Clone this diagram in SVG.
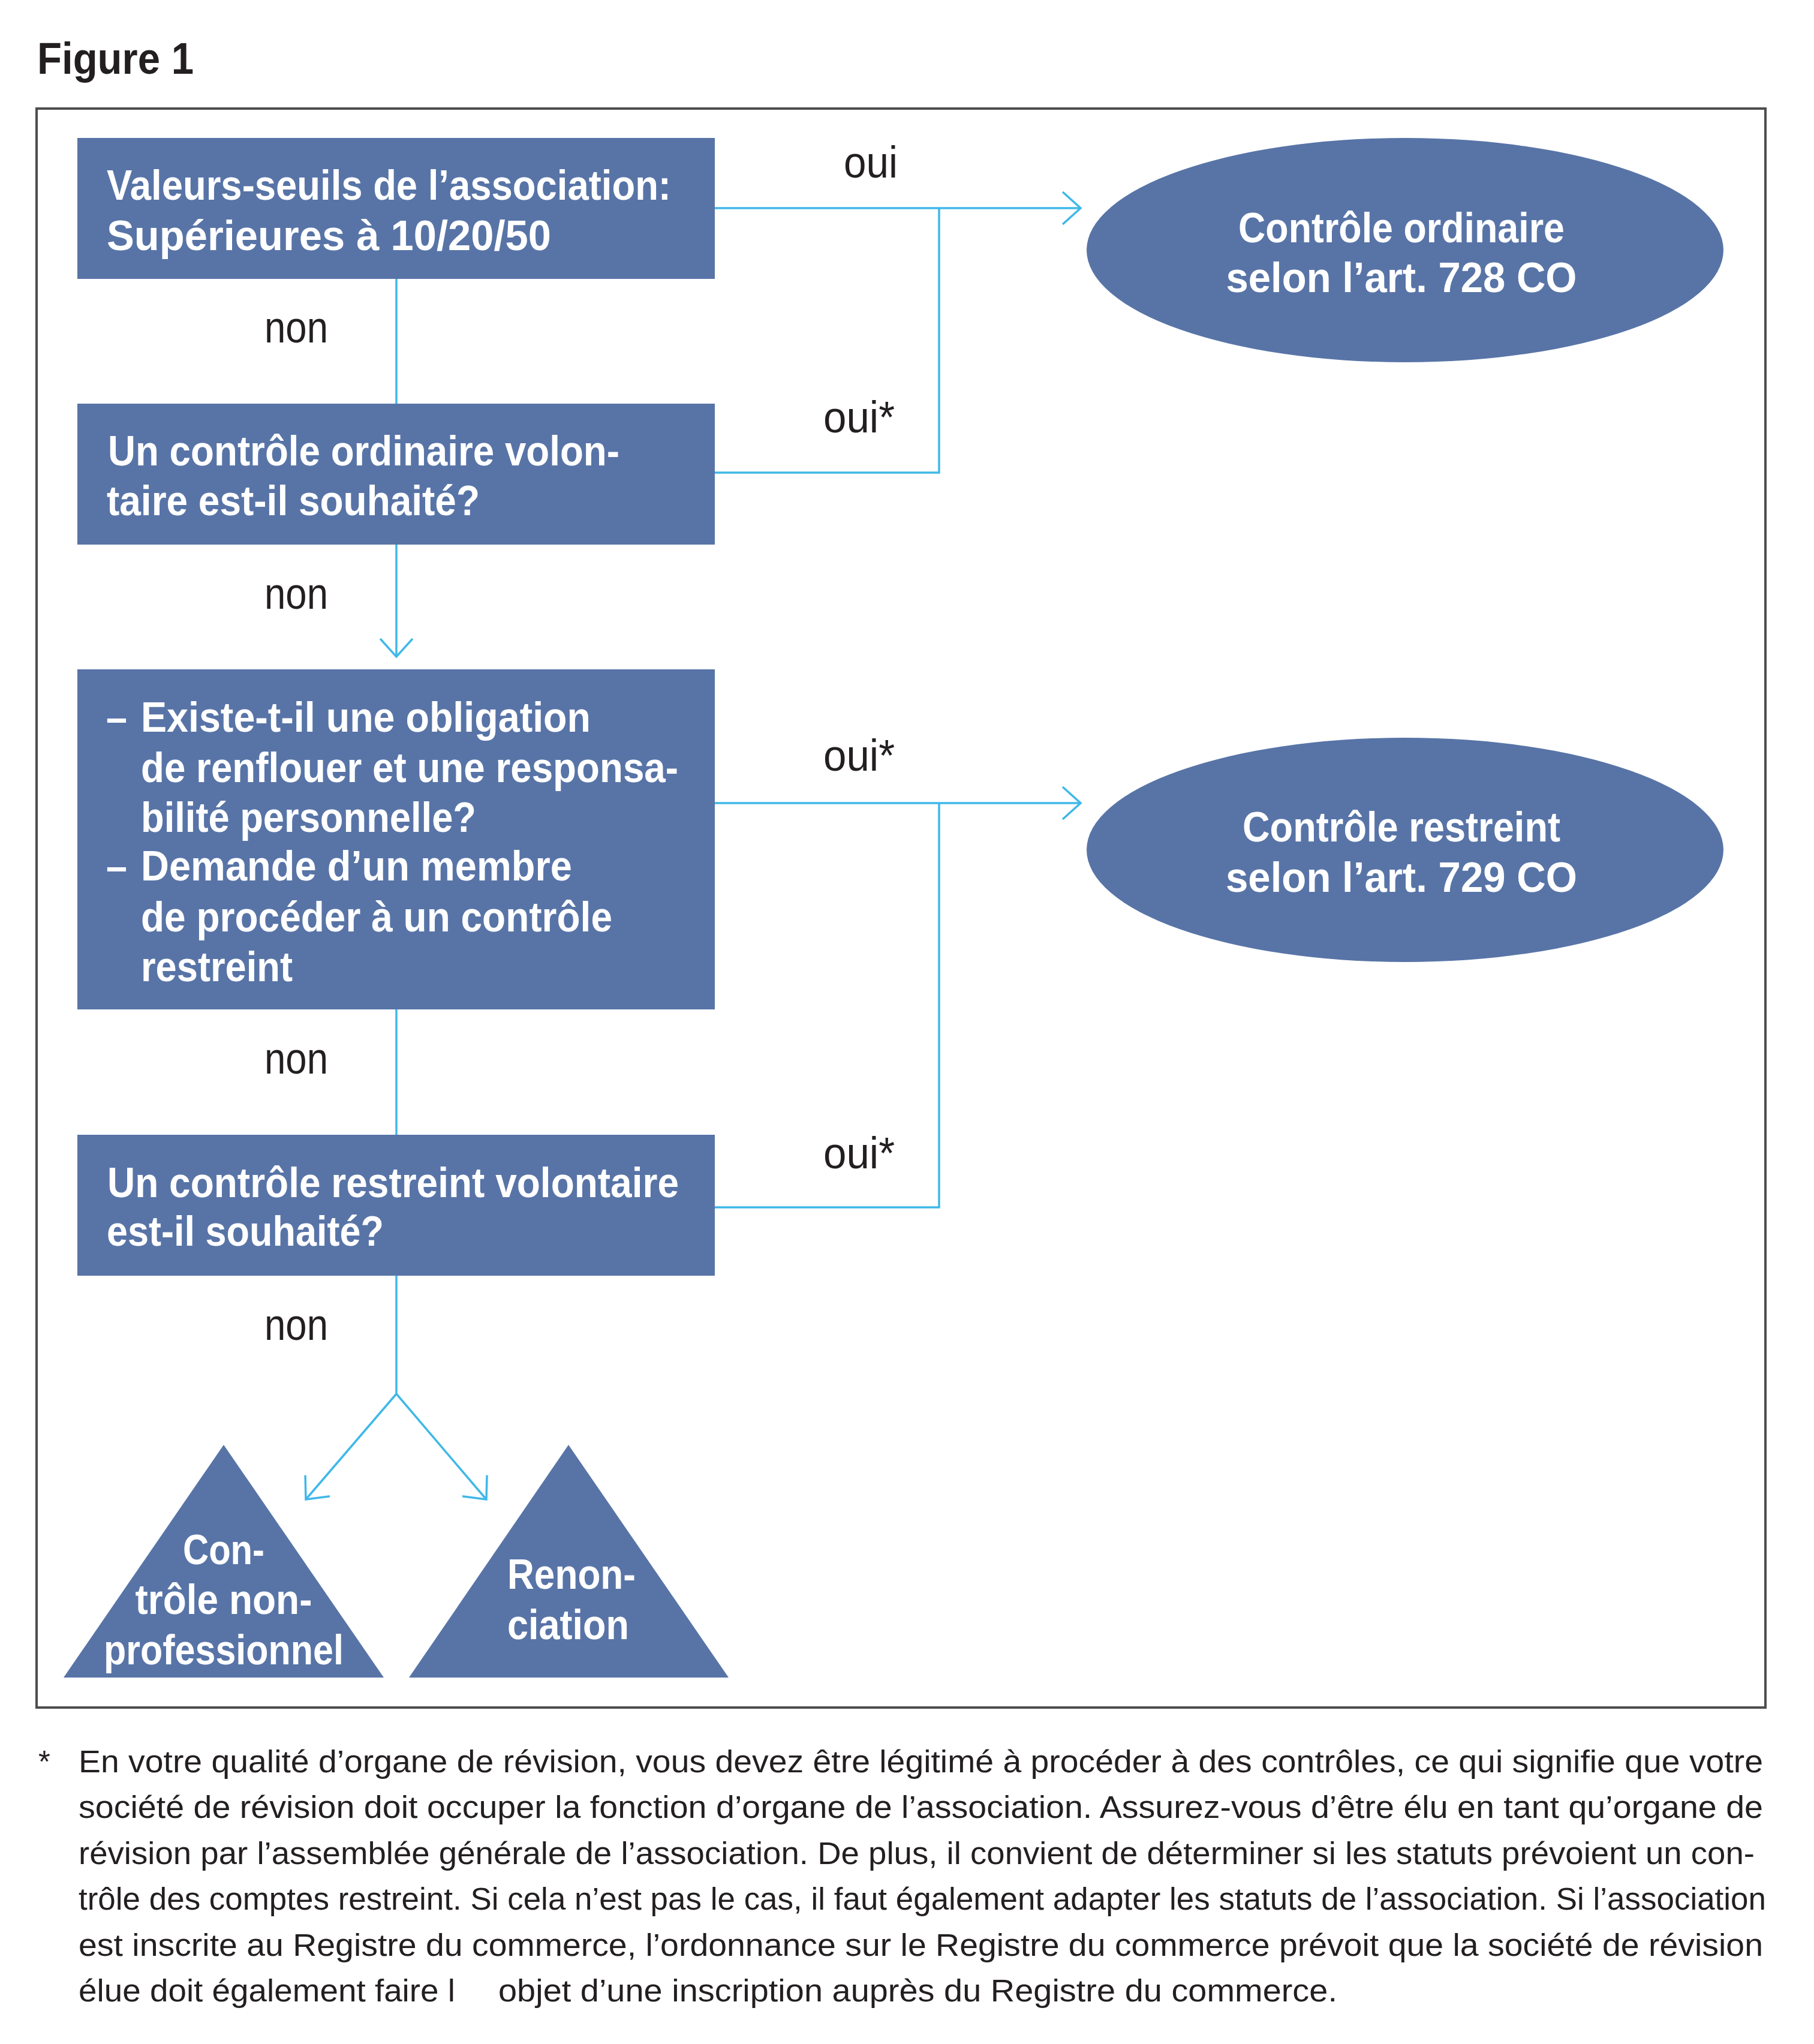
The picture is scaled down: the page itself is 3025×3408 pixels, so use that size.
<svg xmlns="http://www.w3.org/2000/svg" width="3025" height="3408" viewBox="0 0 3025 3408">
<style>
.node{fill:#5874a7}
.bt{font-family:"Liberation Sans",Arial,sans-serif;font-weight:bold;font-size:70px;fill:#ffffff}
.lbl{font-family:"Liberation Sans",Arial,sans-serif;font-size:75px;fill:#231f20}
.fn{font-family:"Liberation Sans",Arial,sans-serif;font-size:51px;fill:#231f20}
.title{font-family:"Liberation Sans",Arial,sans-serif;font-weight:bold;font-size:74px;fill:#231f20}
.conn{fill:none;stroke:#3fb8e8;stroke-width:3.5}
</style>
<defs>
<marker id="chev" markerUnits="userSpaceOnUse" markerWidth="80" markerHeight="80" viewBox="-40 -40 80 80" refX="0" refY="0" orient="auto">
<path d="M-30,-27 L0,0 L-30,27" fill="none" stroke="#3fb8e8" stroke-width="3.5"/>
</marker>
</defs>
<rect width="3025" height="3408" fill="#ffffff"/>
<text class="title" x="62" y="123" textLength="261" lengthAdjust="spacingAndGlyphs">Figure 1</text>
<rect x="61" y="181" width="2883" height="2666" fill="none" stroke="#4d4d4d" stroke-width="4"/>

<g id="connectors">
<path class="conn" d="M1192,347 L1802,347" marker-end="url(#chev)"/>
<path class="conn" d="M1192,788 L1566,788 L1566,347"/>
<path class="conn" d="M661,465 L661,673"/>
<path class="conn" d="M661,908 L661,1095" marker-end="url(#chev)"/>
<path class="conn" d="M1192,1339 L1802,1339" marker-end="url(#chev)"/>
<path class="conn" d="M1192,2013 L1566,2013 L1566,1339"/>
<path class="conn" d="M661,1683 L661,1892"/>
<path class="conn" d="M661,2127 L661,2324"/>
<path class="conn" d="M661,2324 L510,2500" marker-end="url(#chev)"/>
<path class="conn" d="M661,2324 L811,2500" marker-end="url(#chev)"/>
<text class="lbl" x="1407" y="296" textLength="90" lengthAdjust="spacingAndGlyphs">oui</text>
<text class="lbl" x="1373" y="721" textLength="119" lengthAdjust="spacingAndGlyphs">oui*</text>
<text class="lbl" x="1373" y="1285" textLength="119" lengthAdjust="spacingAndGlyphs">oui*</text>
<text class="lbl" x="1373" y="1948" textLength="119" lengthAdjust="spacingAndGlyphs">oui*</text>
<text class="lbl" x="441" y="571" textLength="106" lengthAdjust="spacingAndGlyphs">non</text>
<text class="lbl" x="441" y="1015" textLength="106" lengthAdjust="spacingAndGlyphs">non</text>
<text class="lbl" x="441" y="1790" textLength="106" lengthAdjust="spacingAndGlyphs">non</text>
<text class="lbl" x="441" y="2234" textLength="106" lengthAdjust="spacingAndGlyphs">non</text>
</g>

<g id="box1">
<rect class="node" x="129" y="230" width="1063" height="235"/>
<text class="bt" x="178" y="333" textLength="941" lengthAdjust="spacingAndGlyphs">Valeurs-seuils de l’association:</text>
<text class="bt" x="178" y="417" textLength="741" lengthAdjust="spacingAndGlyphs">Supérieures à 10/20/50</text>
</g>

<g id="box2">
<rect class="node" x="129" y="673" width="1063" height="235"/>
<text class="bt" x="180" y="776" textLength="853" lengthAdjust="spacingAndGlyphs">Un contrôle ordinaire volon-</text>
<text class="bt" x="178" y="859" textLength="622" lengthAdjust="spacingAndGlyphs">taire est-il souhaité?</text>
</g>

<g id="box3">
<rect class="node" x="129" y="1116" width="1063" height="567"/>
<text class="bt" x="177" y="1220" textLength="35" lengthAdjust="spacingAndGlyphs">–</text>
<text class="bt" x="235" y="1220" textLength="750" lengthAdjust="spacingAndGlyphs">Existe-t-il une obligation</text>
<text class="bt" x="235" y="1304" textLength="896" lengthAdjust="spacingAndGlyphs">de renflouer et une responsa-</text>
<text class="bt" x="235" y="1387" textLength="559" lengthAdjust="spacingAndGlyphs">bilité personnelle?</text>
<text class="bt" x="177" y="1468" textLength="35" lengthAdjust="spacingAndGlyphs">–</text>
<text class="bt" x="235" y="1468" textLength="719" lengthAdjust="spacingAndGlyphs">Demande d’un membre</text>
<text class="bt" x="235" y="1553" textLength="786" lengthAdjust="spacingAndGlyphs">de procéder à un contrôle</text>
<text class="bt" x="235" y="1636" textLength="253" lengthAdjust="spacingAndGlyphs">restreint</text>
</g>

<g id="box4">
<rect class="node" x="129" y="1892" width="1063" height="235"/>
<text class="bt" x="179" y="1996" textLength="953" lengthAdjust="spacingAndGlyphs">Un contrôle restreint volontaire</text>
<text class="bt" x="178" y="2077" textLength="462" lengthAdjust="spacingAndGlyphs">est-il souhaité?</text>
</g>

<g id="ellipse1">
<ellipse class="node" cx="2343" cy="417" rx="531" ry="187"/>
<text class="bt" x="2337" y="404" text-anchor="middle" textLength="544" lengthAdjust="spacingAndGlyphs">Contrôle ordinaire</text>
<text class="bt" x="2337" y="487" text-anchor="middle" textLength="585" lengthAdjust="spacingAndGlyphs">selon l’art. 728 CO</text>
</g>

<g id="ellipse2">
<ellipse class="node" cx="2343" cy="1417" rx="531" ry="187"/>
<text class="bt" x="2337" y="1403" text-anchor="middle" textLength="530" lengthAdjust="spacingAndGlyphs">Contrôle restreint</text>
<text class="bt" x="2337" y="1487" text-anchor="middle" textLength="586" lengthAdjust="spacingAndGlyphs">selon l’art. 729 CO</text>
</g>

<g id="tri1">
<polygon class="node" points="373,2409 640,2797 106,2797"/>
<text class="bt" x="373" y="2608" text-anchor="middle" textLength="136" lengthAdjust="spacingAndGlyphs">Con-</text>
<text class="bt" x="373" y="2691" text-anchor="middle" textLength="295" lengthAdjust="spacingAndGlyphs">trôle non-</text>
<text class="bt" x="373" y="2775" text-anchor="middle" textLength="400" lengthAdjust="spacingAndGlyphs">professionnel</text>
</g>

<g id="tri2">
<polygon class="node" points="948,2409 1215,2797 682,2797"/>
<text class="bt" x="846" y="2649" textLength="214" lengthAdjust="spacingAndGlyphs">Renon-</text>
<text class="bt" x="846" y="2733" textLength="203" lengthAdjust="spacingAndGlyphs">ciation</text>
</g>

<g id="footnote">
<text class="fn" x="64" y="2955">*</text>
<text class="fn" x="131" y="2955" textLength="2809" lengthAdjust="spacingAndGlyphs">En votre qualité d’organe de révision, vous devez être légitimé à procéder à des contrôles, ce qui signifie que votre</text>
<text class="fn" x="131" y="3031" textLength="2809" lengthAdjust="spacingAndGlyphs">société de révision doit occuper la fonction d’organe de l’association. Assurez-vous d’être élu en tant qu’organe de</text>
<text class="fn" x="131" y="3108" textLength="2795" lengthAdjust="spacingAndGlyphs">révision par l’assemblée générale de l’association. De plus, il convient de déterminer si les statuts prévoient un con-</text>
<text class="fn" x="131" y="3184" textLength="2814" lengthAdjust="spacingAndGlyphs">trôle des comptes restreint. Si cela n’est pas le cas, il faut également adapter les statuts de l’association. Si l’association</text>
<text class="fn" x="131" y="3261" textLength="2809" lengthAdjust="spacingAndGlyphs">est inscrite au Registre du commerce, l’ordonnance sur le Registre du commerce prévoit que la société de révision</text>
<text class="fn" x="131" y="3337" textLength="628" lengthAdjust="spacingAndGlyphs">élue doit également faire l</text>
<text class="fn" x="831" y="3337" textLength="1399" lengthAdjust="spacingAndGlyphs">objet d’une inscription auprès du Registre du commerce.</text>
</g>
</svg>
